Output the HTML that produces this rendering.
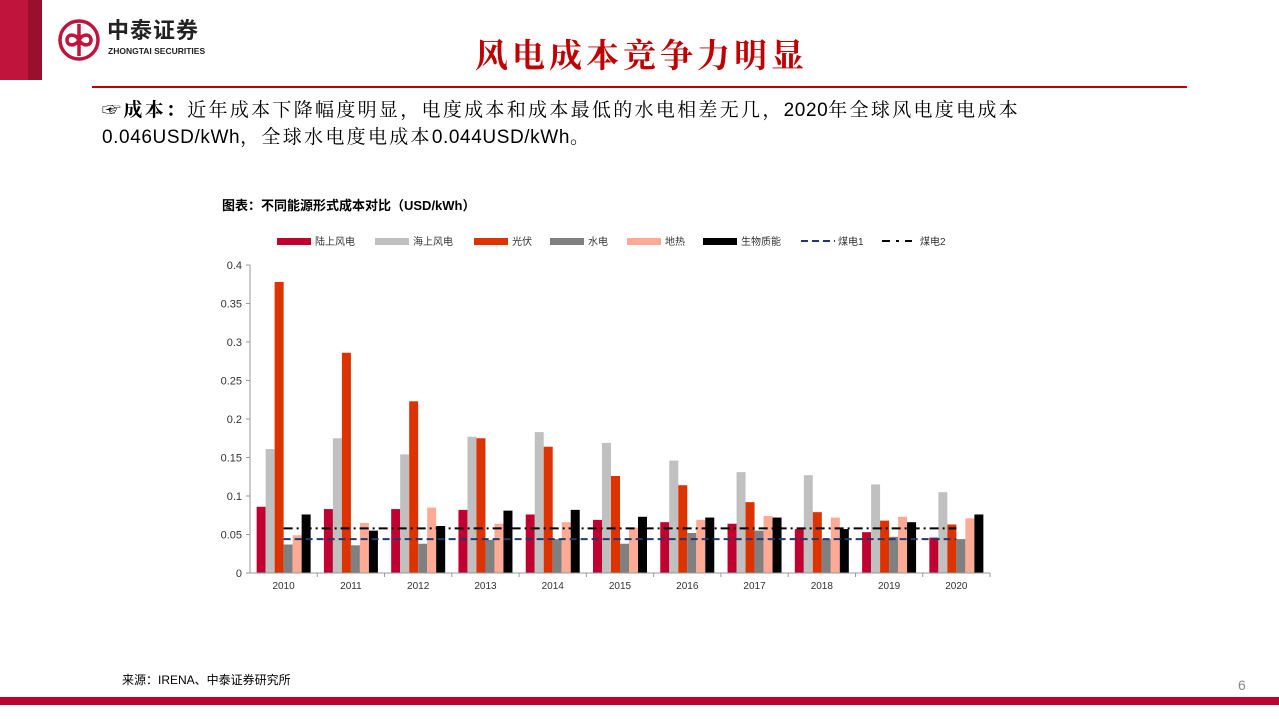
<!DOCTYPE html>
<html><head><meta charset="utf-8"><style>
body{margin:0;width:1279px;height:719px;background:#fff;position:relative;overflow:hidden;font-family:"Liberation Sans","Noto Sans CJK SC",sans-serif}
.a{position:absolute}
.l{letter-spacing:0.6px}
</style></head><body>
<div class="a" style="left:0;top:0;width:28px;height:80px;background:#c0143c"></div>
<div class="a" style="left:28px;top:0;width:14px;height:80px;background:#9a0e2e"></div>
<svg class="a" style="left:57px;top:18px" width="44" height="44" viewBox="0 0 44 44"><circle cx="22" cy="22" r="19" fill="none" stroke="#c0143c" stroke-width="3.5"/><path d="M22 6V38M22 22c-4-7-12-6-12 0s8 7 12 0c4-7 12-6 12 0s-8 7-12 0" fill="none" stroke="#c0143c" stroke-width="3.5"/></svg>
<div class="a" style="left:107px;top:20px;font-size:22px;line-height:22px;font-weight:bold;color:#222;letter-spacing:1px">中泰证券</div>
<div class="a" style="left:108px;top:47px;font-size:8.5px;line-height:9px;font-weight:bold;color:#222">ZHONGTAI SECURITIES</div>
<div class="a" style="left:475px;top:34px;font-size:33px;line-height:40px;color:#c00000;font-family:'Noto Serif CJK SC',serif;font-weight:bold;letter-spacing:4px">风电成本竞争力明显</div>
<div class="a" style="left:92px;top:86px;width:1095px;height:2px;background:#c00000"></div>
<div class="a" style="left:102px;top:97px;font-size:19px;line-height:27px;color:#000;width:1060px;letter-spacing:2.3px;font-family:'Liberation Sans','Noto Serif CJK SC',serif">☞<b>成本：</b>近年成本下降幅度明显，电度成本和成本最低的水电相差无几，<span class="l">2020</span>年全球风电度电成本<br><span class="l">0.046USD/kWh</span>，全球水电度电成本<span class="l">0.044USD/kWh</span>。</div>
<div class="a" style="left:222px;top:195px;font-size:13px;font-weight:bold;color:#000">图表：不同能源形式成本对比（USD/kWh）</div>
<svg class="a" id="chart" style="left:0;top:0" width="1279" height="719"></svg>
<div class="a" style="left:122px;top:671px;font-size:12px;color:#000">来源：IRENA、中泰证券研究所</div>
<div class="a" style="left:1238px;top:677px;font-size:14px;color:#888">6</div>
<div class="a" style="left:0;top:697px;width:1279px;height:8px;background:#c00030"></div>
<script>
const years=["2010","2011","2012","2013","2014","2015","2016","2017","2018","2019","2020"];
const onshore=[0.086,0.083,0.083,0.082,0.076,0.069,0.066,0.064,0.057,0.053,0.046];
const offshore=[0.161,0.175,0.154,0.177,0.183,0.169,0.146,0.131,0.127,0.115,0.105];
const solar=[0.378,0.286,0.223,0.175,0.164,0.126,0.114,0.092,0.079,0.068,0.063];
const hydro=[0.037,0.036,0.038,0.043,0.044,0.038,0.052,0.055,0.044,0.047,0.044];
const geo=[0.049,0.065,0.085,0.064,0.066,0.059,0.069,0.074,0.072,0.073,0.071];
const bio=[0.076,0.055,0.061,0.081,0.082,0.073,0.072,0.072,0.057,0.066,0.076];
const coal1=0.044, coal2=0.058;
const yTicks=[0,0.05,0.1,0.15,0.2,0.25,0.3,0.35,0.4];
const seriesNames=["陆上风电","海上风电","光伏","水电","地热","生物质能"];
const seriesColors=["#c00030","#c0c0c0","#dd3300","#808080","#ffaa95","#000000"];
const series=[onshore,offshore,solar,hydro,geo,bio];
const svg=document.getElementById('chart');const NS="http://www.w3.org/2000/svg";
function mk(t,a){const e=document.createElementNS(NS,t);for(const k in a)e.setAttribute(k,a[k]);svg.appendChild(e);return e;}
const x0=250,x1=990,yb=573,yt=265,ymax=0.4;
const gw=(x1-x0)/years.length;
const Y=v=>yb-(v/ymax)*(yb-yt);
const bw=9;
const GX=i=>x0+gw*i+gw/2;
let e=mk('line',{x1:x0,y1:yt,x2:x0,y2:yb,stroke:'#999'});
yTicks.forEach(t=>{let l=mk('line',{x1:x0-4,x2:x0,y1:Y(t),y2:Y(t),stroke:'#999'});
let tx=mk('text',{x:x0-8,y:Y(t)+4,'text-anchor':'end','font-size':11,fill:'#333'});tx.textContent=String(t);});
years.forEach((yr,i)=>{series.forEach((s,j)=>{let r=mk('rect',{x:GX(i)-3*bw+j*bw,y:Y(s[i]),width:bw,height:yb-Y(s[i]),fill:seriesColors[j]});});
let tx=mk('text',{x:GX(i),y:yb+16,'text-anchor':'middle','font-size':10,fill:'#333'});tx.textContent=yr;
let tk=mk('line',{x1:x0+gw*(i+1),x2:x0+gw*(i+1),y1:yb,y2:yb+4,stroke:'#999'});});
e=mk('line',{x1:x0,y1:yb,x2:x1,y2:yb,stroke:'#999'});
e=mk('line',{x1:GX(0),x2:GX(years.length-1),y1:Y(coal1),y2:Y(coal1),stroke:'#1f3a6e','stroke-width':2,'stroke-dasharray':'7,4'});
e=mk('line',{x1:GX(0),x2:GX(years.length-1),y1:Y(coal2),y2:Y(coal2),stroke:'#000','stroke-width':2,'stroke-dasharray':'9,4,2,4'});
const lx=[277,375,474,550,627,703];
seriesNames.forEach((n,j)=>{let r=mk('rect',{x:lx[j],y:238,width:34,height:7,fill:seriesColors[j]});
let t=mk('text',{x:lx[j]+38,y:245,'font-size':10,fill:'#333'});t.textContent=n;});
e=mk('line',{x1:801,x2:835,y1:241,y2:241,stroke:'#1f3a6e','stroke-width':2,'stroke-dasharray':'7,4'});
let t=mk('text',{x:838,y:245,'font-size':10,fill:'#333'});t.textContent='煤电1';
e=mk('line',{x1:882,x2:912,y1:241,y2:241,stroke:'#000','stroke-width':2,'stroke-dasharray':'8,6,3,6'});
t=mk('text',{x:920,y:245,'font-size':10,fill:'#333'});t.textContent='煤电2';
</script>
</body></html>
